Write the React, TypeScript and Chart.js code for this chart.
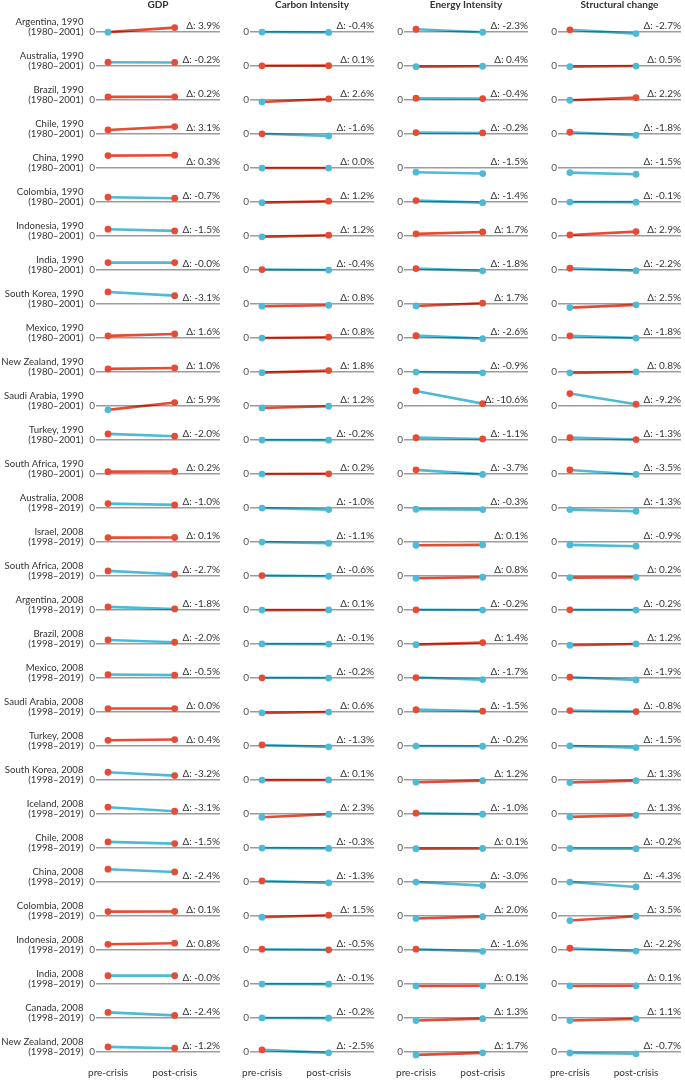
import React, { useEffect, useRef } from "react";
import { Chart, registerables } from "chart.js";

Chart.register(...registerables);

// ---------- data ----------
const countries = [
  "Argentina", "Australia", "Brazil", "Chile", "China", "Colombia", "Indonesia", "India",
  "South Korea", "Mexico", "New Zealand", "Saudi Arabia", "Turkey", "South Africa",
  "Australia", "Israel", "South Africa", "Argentina", "Brazil", "Mexico", "Saudi Arabia",
  "Turkey", "South Korea", "Iceland", "Chile", "China", "Colombia", "Indonesia", "India",
  "Canada", "New Zealand",
];
const crisisYears = [
  1990, 1990, 1990, 1990, 1990, 1990, 1990, 1990, 1990, 1990, 1990, 1990, 1990, 1990,
  2008, 2008, 2008, 2008, 2008, 2008, 2008, 2008, 2008, 2008, 2008, 2008, 2008, 2008, 2008,
  2008, 2008,
];
const periods = [
  "(1980–2001)", "(1980–2001)", "(1980–2001)", "(1980–2001)", "(1980–2001)", "(1980–2001)",
  "(1980–2001)", "(1980–2001)", "(1980–2001)", "(1980–2001)", "(1980–2001)", "(1980–2001)",
  "(1980–2001)", "(1980–2001)",
  "(1998–2019)", "(1998–2019)", "(1998–2019)", "(1998–2019)", "(1998–2019)", "(1998–2019)",
  "(1998–2019)", "(1998–2019)", "(1998–2019)", "(1998–2019)", "(1998–2019)", "(1998–2019)",
  "(1998–2019)", "(1998–2019)", "(1998–2019)", "(1998–2019)", "(1998–2019)",
];
const panelTitles = ["GDP", "Carbon Intensity", "Energy Intensity", "Structural change"];
const xLabels = ["pre-crisis", "post-crisis"];

const gdpPre = [-0.2, 3.1, 2.5, 3.3, 10.3, 3.9, 5.6, 6.1, 10.0, 1.7, 2.5, -3.3, 5.0, 1.9, 3.6, 3.6, 4.2, 2.5, 3.3, 2.8, 2.8, 4.7, 6.4, 5.6, 5.0, 10.6, 3.6, 4.7, 6.9, 4.6, 4.2];
const gdpPost = [3.6, 2.9, 2.6, 6.1, 10.6, 3.1, 4.2, 6.1, 6.9, 3.3, 3.3, 2.8, 3.1, 2.0, 2.5, 3.7, 1.4, 0.8, 1.4, 2.3, 2.8, 5.3, 3.6, 2.2, 3.6, 8.3, 3.7, 5.6, 6.9, 2.1, 3.1];
const gdpDelta = ["3.9", "-0.2", "0.2", "3.1", "0.3", "-0.7", "-1.5", "-0.0", "-3.1", "1.6", "1.0", "5.9", "-2.0", "0.2", "-1.0", "0.1", "-2.7", "-1.8", "-2.0", "-0.5", "0.0", "0.4", "-3.2", "-3.1", "-1.5", "-2.4", "0.1", "0.8", "-0.0", "-2.4", "-1.2"];

const ciPre = [-0.1, 0.1, -1.7, 0.1, -0.1, -0.6, -0.8, 0.3, -1.9, -0.1, -0.6, -1.7, -0.1, -0.1, -0.1, -0.1, 0.3, -0.15, -0.05, 0.1, -0.8, 0.8, -0.15, -2.8, -0.1, 0.8, -1.1, 0.6, -0.1, -0.05, 1.7];
const ciPost = [-0.4, 0.2, 0.8, -1.7, -0.1, 0.6, 0.6, -0.1, -1.1, 0.6, 1.1, -0.3, -0.2, 0.1, -1.4, -1.1, -0.3, -0.05, -0.15, -0.1, -0.1, -0.8, -0.05, -0.3, -0.4, -0.8, 0.6, 0.1, -0.2, -0.2, -0.8];
const ciDelta = ["-0.4", "0.1", "2.6", "-1.6", "0.0", "1.2", "1.2", "-0.4", "0.8", "0.8", "1.8", "1.2", "-0.2", "0.2", "-1.0", "-1.1", "-0.6", "0.1", "-0.1", "-0.2", "0.6", "-1.3", "0.1", "2.3", "-0.3", "-1.3", "1.5", "-0.5", "-0.1", "-0.2", "-2.5"];

const eiPre = [2.2, -0.6, 1.4, 1.1, -3.6, 1.1, 1.7, 1.1, -1.7, 1.9, -0.1, 12.5, 1.9, 3.4, -1.1, -2.8, -1.9, 0.1, -0.6, 0.3, 1.9, -0.1, -1.9, 0.6, -0.6, -0.1, -2.2, 0.6, -1.7, -2.2, -2.5];
const eiPost = [-0.3, -0.3, 1.1, 0.8, -4.7, -0.6, 3.3, -0.8, 0.6, -0.6, -0.8, 1.9, 0.8, -0.4, -1.4, -2.5, -1.1, -0.1, 1.1, -1.4, 0.6, -0.3, -0.6, -0.3, -0.5, -3.1, -0.6, -1.2, -1.6, -0.6, -0.8];
const eiDelta = ["-2.3", "0.4", "-0.4", "-0.2", "-1.5", "-1.4", "1.7", "-1.8", "1.7", "-2.6", "-0.9", "-10.6", "-1.1", "-3.7", "-0.3", "0.1", "0.8", "-0.2", "1.4", "-1.7", "-1.5", "-0.2", "1.2", "-1.0", "0.1", "-3.0", "2.0", "-1.6", "0.1", "1.3", "1.7"];

const scPre = [1.7, -0.6, -0.3, 1.4, -3.9, -0.1, 0.8, 1.4, -3.1, 1.7, -0.8, 10.3, 1.9, 3.3, -1.4, -2.5, -1.4, 0.1, -1.1, 0.6, 1.1, -0.05, -2.2, -2.5, -0.5, -0.1, -3.9, 1.4, -1.7, -2.2, -0.9];
const scPost = [-1.4, -0.1, 1.9, -1.1, -5.3, -0.2, 3.6, -0.6, -0.8, -0.1, -0.05, 1.4, 0.3, -0.5, -2.8, -3.6, -1.2, -0.1, -0.05, -1.7, 0.3, -1.4, -0.6, -1.1, -0.6, -4.2, -0.3, -1.0, -1.6, -0.8, -1.6];
const scDelta = ["-2.7", "0.5", "2.2", "-1.8", "-1.5", "-0.1", "2.9", "-2.2", "2.5", "-1.8", "0.8", "-9.2", "-1.3", "-3.5", "-1.3", "-0.9", "0.2", "-0.2", "1.2", "-1.9", "-0.8", "-1.5", "1.3", "1.3", "-0.2", "-4.3", "3.5", "-2.2", "0.1", "1.1", "-0.7"];

// ---------- styling / layout ----------
const RED = "#E64B35";
const BLUE = "#4DBBD5";
const TEXT = "#333333";
const FONT = 'Lato, "Open Sans", "DejaVu Sans", sans-serif';
const X_MIN = -0.18;
const X_MAX = 1.68;
const Y_MIN = -10.1;
const Y_MAX = 18.3;
const CANVAS_HEIGHT = 1082;
const CANVAS_LEFT = [0, 236, 390, 544];
const CANVAS_WIDTH = [224, 142, 142, 141];
const PAD_LEFT = [84, 2, 2, 2];
const PAD_RIGHT = [2, 2, 2, 1];

const panels = [
  { title: panelTitles[0], pre: gdpPre, post: gdpPost, delta: gdpDelta },
  { title: panelTitles[1], pre: ciPre, post: ciPost, delta: ciDelta },
  { title: panelTitles[2], pre: eiPre, post: eiPost, delta: eiDelta },
  { title: panelTitles[3], pre: scPre, post: scPost, delta: scDelta },
];

const pointColor = (v: number) => (v > 0 ? RED : BLUE);
const lineColor = (d: string) => (d.startsWith("-") ? BLUE : RED);

function Panel({ index }: { index: number }) {
  const ref = useRef<HTMLCanvasElement | null>(null);

  useEffect(() => {
    const canvas = ref.current;
    if (!canvas) return;
    const panel = panels[index];

    const scales: any = {
      x: {
        type: "linear",
        position: "bottom",
        min: X_MIN,
        max: X_MAX,
        afterBuildTicks: (s: any) => {
          s.ticks = xLabels.map((_, i) => ({ value: i }));
        },
        ticks: {
          callback: (v: any) => xLabels[v] ?? "",
          font: { family: FONT, size: 10, lineHeight: 1 },
          color: TEXT,
          padding: 4,
          maxRotation: 0,
          autoSkip: false,
        },
        grid: { display: false, drawTicks: false },
        border: { display: false },
      },
    };
    countries.forEach((_, i) => {
      scales["y" + i] = {
        type: "linear",
        position: "left",
        stack: "rows",
        stackWeight: 1,
        weight: countries.length - i,
        min: Y_MIN,
        max: Y_MAX,
        afterBuildTicks: (s: any) => {
          s.ticks = [{ value: 0 }];
        },
        afterFit: (s: any) => {
          s.width = 12;
        },
        ticks: {
          font: { family: FONT, size: 10 },
          color: "#555555",
          padding: 1,
        },
        grid: { color: "#9c9c9c", lineWidth: 1.4, drawTicks: false },
        border: { display: false },
      };
    });

    const lineSets = countries.map((_, i) => ({
      kind: "line",
      type: "line",
      yAxisID: "y" + i,
      xAxisID: "x",
      data: [
        { x: 0, y: panel.pre[i] },
        { x: 1, y: panel.post[i] },
      ],
      borderColor: lineColor(panel.delta[i]),
      borderWidth: 2.6,
      pointRadius: 0,
      tension: 0,
      order: 2,
      clip: false,
    }));
    const pointSets = countries.map((_, i) => ({
      kind: "points",
      type: "line",
      yAxisID: "y" + i,
      xAxisID: "x",
      data: [
        { x: 0, y: panel.pre[i] },
        { x: 1, y: panel.post[i] },
      ],
      showLine: false,
      pointRadius: 3.4,
      pointBorderWidth: 0,
      pointBackgroundColor: [pointColor(panel.pre[i]), pointColor(panel.post[i])],
      pointBorderColor: [pointColor(panel.pre[i]), pointColor(panel.post[i])],
      order: 1,
      clip: false,
    }));

    const blendPlugin = {
      id: "blend",
      beforeDatasetDraw(chart: any, args: any) {
        const ds = chart.data.datasets[args.index];
        if (ds.kind === "line") {
          chart.ctx.save();
          chart.ctx.globalCompositeOperation = "multiply";
        }
      },
      afterDatasetDraw(chart: any, args: any) {
        const ds = chart.data.datasets[args.index];
        if (ds.kind === "line") chart.ctx.restore();
      },
    };

    const labelPlugin = {
      id: "labels",
      afterDraw(chart: any) {
        const ctx = chart.ctx;
        const area = chart.chartArea;
        ctx.save();
        ctx.fillStyle = TEXT;
        countries.forEach((c, i) => {
          const y0 = chart.scales["y" + i].getPixelForValue(0);
          ctx.font = `10px ${FONT}`;
          ctx.textAlign = "right";
          ctx.textBaseline = "alphabetic";
          ctx.fillText(`Δ: ${panel.delta[i]}%`, area.right, y0 - 2.5);
          if (index === 0) {
            ctx.font = `9.6px ${FONT}`;
            ctx.textBaseline = "middle";
            ctx.fillText(`${c}, ${crisisYears[i]}`, 83.5, y0 - 10.5);
            ctx.fillText(periods[i], 83.5, y0);
          }
        });
        ctx.restore();
      },
    };

    const chart = new Chart(canvas, {
      type: "line",
      data: { datasets: [...lineSets, ...pointSets] as any },
      options: {
        responsive: false,
        maintainAspectRatio: false,
        animation: false,
        devicePixelRatio: 1,
        layout: { padding: { left: PAD_LEFT[index], right: PAD_RIGHT[index], top: 0, bottom: 0 } },
        plugins: {
          legend: { display: false },
          tooltip: { enabled: false },
          title: {
            display: true,
            text: panel.title,
            fullSize: false,
            color: TEXT,
            font: { family: FONT, size: 10, weight: "bold", lineHeight: 1 },
            padding: 0,
          },
        },
        scales,
      } as any,
      plugins: [blendPlugin, labelPlugin],
    });
    return () => chart.destroy();
  }, [index]);

  return (
    <canvas
      ref={ref}
      width={CANVAS_WIDTH[index]}
      height={CANVAS_HEIGHT}
      style={{
        position: "absolute",
        left: CANVAS_LEFT[index],
        top: 0,
        width: CANVAS_WIDTH[index],
        height: CANVAS_HEIGHT,
      }}
    />
  );
}

export default function App() {
  return (
    <div
      style={{
        position: "absolute",
        left: 0,
        top: 0,
        width: 685,
        height: 1082,
        overflow: "hidden",
        background: "#ffffff",
      }}
    >
      {panels.map((_, i) => (
        <Panel key={i} index={i} />
      ))}
    </div>
  );
}
